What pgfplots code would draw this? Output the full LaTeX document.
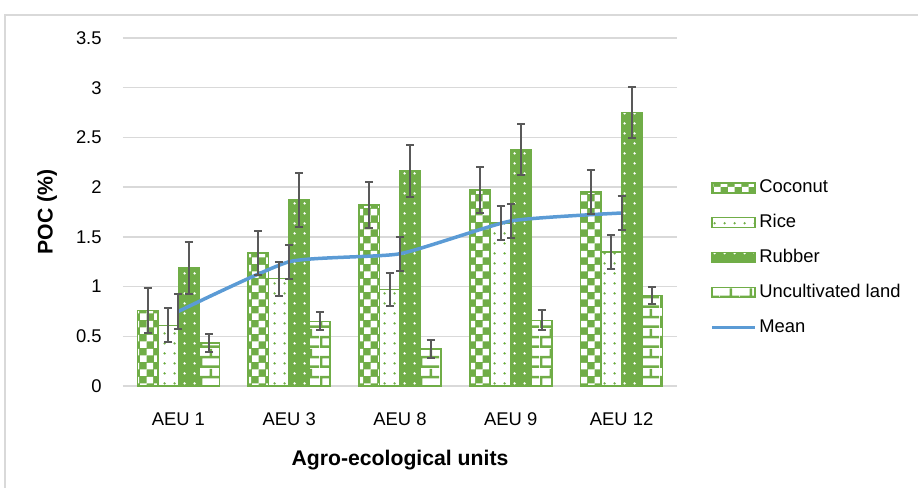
\documentclass[border=0pt]{standalone}
\usepackage{pgfplots}
\pgfplotsset{compat=1.18}
\usepackage{pgfplotstable}
\usepackage{fontspec}
\setmainfont{Liberation Sans}
\usetikzlibrary{patterns}

\definecolor{cgreen}{HTML}{70AD47}
\definecolor{mblue}{HTML}{5B9BD5}
\definecolor{egray}{HTML}{595959}
\definecolor{gridc}{HTML}{D9D9D9}

% Excel-like fill patterns (form only, coloured by pattern color)
\pgfdeclarepatternformonly{bigcheck}{\pgfqpoint{0pt}{0pt}}{\pgfqpoint{7pt}{7pt}}{\pgfqpoint{7pt}{7pt}}{
  \pgfpathrectangle{\pgfqpoint{0pt}{0pt}}{\pgfqpoint{3.5pt}{3.5pt}}
  \pgfpathrectangle{\pgfqpoint{3.5pt}{3.5pt}}{\pgfqpoint{3.5pt}{3.5pt}}
  \pgfusepath{fill}}
\pgfdeclarepatternformonly{sparsedots}{\pgfqpoint{0pt}{0pt}}{\pgfqpoint{5pt}{5pt}}{\pgfqpoint{5pt}{5pt}}{
  \pgfpathcircle{\pgfqpoint{2.5pt}{2.5pt}}{0.7pt}
  \pgfusepath{fill}}
\pgfdeclarepatternformonly{hbricks}{\pgfqpoint{0pt}{0pt}}{\pgfqpoint{10pt}{10pt}}{\pgfqpoint{10pt}{10pt}}{
  \pgfpathrectangle{\pgfqpoint{0pt}{0pt}}{\pgfqpoint{10pt}{1.3pt}}
  \pgfpathrectangle{\pgfqpoint{0pt}{5pt}}{\pgfqpoint{10pt}{1.3pt}}
  \pgfpathrectangle{\pgfqpoint{0pt}{0pt}}{\pgfqpoint{1.3pt}{5pt}}
  \pgfpathrectangle{\pgfqpoint{5pt}{5pt}}{\pgfqpoint{1.3pt}{5pt}}
  \pgfusepath{fill}}

\pgfplotstableread{
x coconut ce   rice re   rubber rbe  uncult ue   mean me
0 0.76    0.23 0.61 0.17 1.19   0.26 0.43   0.09 0.75 0.18
1 1.34    0.22 1.08 0.17 1.87   0.27 0.65   0.09 1.25 0.17
2 1.82    0.23 0.97 0.17 2.16   0.26 0.37   0.09 1.33 0.17
3 1.97    0.23 1.64 0.17 2.38   0.26 0.66   0.10 1.66 0.17
4 1.95    0.22 1.35 0.17 2.75   0.26 0.91   0.09 1.74 0.17
}\datatable

\pgfplotsset{
  % background of a bar
  barfill/.style 2 args={forget plot, ybar, bar width=10.25pt, bar shift=#1,
    draw=none, fill=#2},
  % pattern and outline of a bar, and its legend patch
  barpat/.style n args={4}{ybar, bar width=10.25pt, bar shift=#1, line width=0.8pt,
    draw=cgreen, pattern=#3, pattern color=#4,
    legend image code/.code={
      \fill[#2] (0pt,-2.5pt) rectangle (21.5pt,2.5pt);
      \draw[##1] (0pt,-2.5pt) rectangle (21.5pt,2.5pt);}},
  meanline/.style={mblue, line width=1.75pt, smooth, tension=0.3, mark=none,
    legend image code/.code={\draw[##1] (0pt,0pt) -- (21.5pt,0pt);}},
  ebar/.style={forget plot, draw=none, mark=none,
    error bars/.cd, y dir=both, y explicit,
    error bar style={draw=egray, solid, line width=1pt},
    error mark options={draw=egray, solid, line width=1pt, mark size=2pt, rotate=90}},
}

\begin{document}
\begin{tikzpicture}
\useasboundingbox (-61.5pt,-51pt) rectangle (397.5pt,193pt);
\draw[gridc, line width=0.8pt] (-59pt,-60pt) -- (-59pt,185.5pt) -- (400pt,185.5pt);
\begin{axis}[
  at={(0pt,0pt)}, anchor=south west,
  scale only axis, width=277pt, height=174pt,
  xmin=-0.5, xmax=4.5, ymin=0, ymax=3.5,
  xtick={0,...,4}, xticklabels={AEU 1,AEU 3,AEU 8,AEU 9,AEU 12},
  ytick={0,0.5,...,3.5},
  ymajorgrids, grid style={gridc, line width=0.75pt},
  axis lines*=left,
  x axis line style={gridc, line width=0.75pt},
  y axis line style={draw=none},
  major tick length=0pt, tick style={draw=none},
  /pgf/number format/assume math mode=true,
  tick label style={font=\fontsize{9.2}{11}\selectfont},
  yticklabel style={anchor=east, inner sep=0pt, xshift=-10.5pt},
  xticklabel style={anchor=north, inner sep=0pt, yshift=-13pt},
  xlabel={Agro-ecological units},
  ylabel={POC (\%)},
  label style={font=\fontsize{10.6}{12}\selectfont\bfseries},
  xlabel style={at={(axis description cs:0.5,0)}, anchor=north, inner sep=0pt, yshift=-32pt},
  ylabel style={at={(axis description cs:-0.137,0.5)}, anchor=center, inner sep=0pt},
  legend style={at={(axis description cs:1.0596,0.6006)}, anchor=north west,
    draw=none, fill=none, inner sep=0pt, row sep=6.85pt,
    font=\fontsize{9.2}{11}\selectfont, nodes={inner sep=1.25pt}},
  legend cell align=left,
]
% bar backgrounds
\addplot[barfill={-15.375pt}{cgreen}] table[x=x, y=coconut]{\datatable};
\addplot[barfill={-5.125pt}{white}] table[x=x, y=rice]{\datatable};
\addplot[barfill={5.125pt}{cgreen}] table[x=x, y=rubber]{\datatable};
\addplot[barfill={15.375pt}{white}] table[x=x, y=uncult]{\datatable};
% bar patterns and outlines
\addplot[barpat={-15.375pt}{cgreen}{bigcheck}{white}] table[x=x, y=coconut]{\datatable};
\addlegendentry{Coconut}
\addplot[barpat={-5.125pt}{white}{sparsedots}{cgreen}] table[x=x, y=rice]{\datatable};
\addlegendentry{Rice}
\addplot[barpat={5.125pt}{cgreen}{sparsedots}{white}] table[x=x, y=rubber]{\datatable};
\addlegendentry{Rubber}
\addplot[barpat={15.375pt}{white}{hbricks}{cgreen}] table[x=x, y=uncult]{\datatable};
\addlegendentry{Uncultivated land}
\addplot[meanline] table[x=x, y=mean]{\datatable};
\addlegendentry{Mean}
% error bars (bar shift in axis units: 10.25pt per bar over 55.4pt per group)
\addplot[ebar] table[x expr=\thisrow{x}-0.2775, y=coconut, y error=ce]{\datatable};
\addplot[ebar] table[x expr=\thisrow{x}-0.0925, y=rice, y error=re]{\datatable};
\addplot[ebar] table[x expr=\thisrow{x}+0.0925, y=rubber, y error=rbe]{\datatable};
\addplot[ebar] table[x expr=\thisrow{x}+0.2775, y=uncult, y error=ue]{\datatable};
\addplot[ebar] table[x=x, y=mean, y error=me]{\datatable};
\end{axis}
\end{tikzpicture}
\end{document}
